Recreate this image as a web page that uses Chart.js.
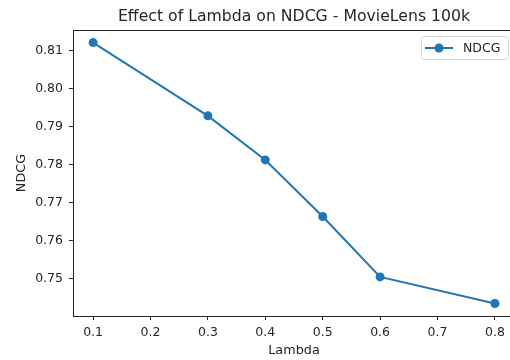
<!DOCTYPE html>
<html>
<head>
<meta charset="utf-8">
<script src="https://cdn.jsdelivr.net/npm/chart.js@4.4.0/dist/chart.umd.min.js"></script>
<style>
html, body { margin: 0; padding: 0; background: #fff; overflow: hidden; }
#wrap { width: 510px; height: 360px; overflow: hidden; }
</style>
</head>
<body>
<div id="wrap"><canvas id="line-chart" width="588" height="360"></canvas></div>
<script>
// data
const lambdas = [0.1, 0.3, 0.4, 0.5, 0.6, 0.8];
const ndcg = [0.8121, 0.7928, 0.7812, 0.7663, 0.7504, 0.7434];
const xTicks = [0.1, 0.2, 0.3, 0.4, 0.5, 0.6, 0.7, 0.8];
const yTicks = [0.75, 0.76, 0.77, 0.78, 0.79, 0.80, 0.81];
const seriesName = 'NDCG';

const blue = '#1f77b4';
const ink = '#262626';
const fontFamily = '"DejaVu Sans", sans-serif';

// matplotlib style frame + legend
const framePlugin = {
    id: 'frame',
    afterDraw(chart) {
        const c = chart.ctx;
        const a = chart.chartArea;
        c.save();
        c.strokeStyle = '#222';
        c.lineWidth = 1;
        c.strokeRect(Math.round(a.left) + 0.5, Math.round(a.top) + 0.5,
            Math.round(a.right - a.left), Math.round(a.bottom - a.top));

        // legend box
        const bx = 421.5, by = 36.5, bw = 87, bh = 23;
        c.beginPath();
        c.roundRect(bx, by, bw, bh, 3);
        c.fillStyle = 'rgba(255,255,255,0.8)';
        c.fill();
        c.strokeStyle = '#d6d6d6';
        c.stroke();
        c.beginPath();
        c.moveTo(425, 48);
        c.lineTo(453, 48);
        c.strokeStyle = blue;
        c.lineWidth = 2;
        c.stroke();
        c.beginPath();
        c.arc(439, 48, 4.5, 0, Math.PI * 2);
        c.fillStyle = blue;
        c.fill();
        c.fillStyle = ink;
        c.font = '12.5px ' + fontFamily;
        c.textBaseline = 'middle';
        c.fillText(seriesName, 463, 48.5);
        c.restore();
    }
};

const ctx = document.getElementById('line-chart');

const chart = new Chart(ctx, {
    type: 'line',
    data: {
        datasets: [{
            label: seriesName,
            data: lambdas.map((x, i) => ({ x: x, y: ndcg[i] })),
            borderColor: blue,
            backgroundColor: blue,
            borderWidth: 2,
            pointRadius: 4.5,
            pointHoverRadius: 4.5,
            pointBorderWidth: 0,
            tension: 0
        }]
    },
    plugins: [framePlugin],
    options: {
        responsive: false,
        animation: false,
        devicePixelRatio: 1,
        layout: { padding: 0 },
        plugins: {
            legend: { display: false },
            tooltip: { enabled: false },
            title: {
                display: true,
                text: 'Effect of Lambda on NDCG - MovieLens 100k',
                color: ink,
                font: { family: fontFamily, size: 15.7, weight: 'normal', lineHeight: 1.2 },
                padding: { top: 7.5, bottom: 3.7 }
            }
        },
        scales: {
            x: {
                type: 'linear',
                min: 0.065,
                max: 0.835,
                afterBuildTicks: s => { s.ticks = xTicks.map(v => ({ value: v })); },
                afterFit: s => { s.height = 44; },
                border: { display: false },
                grid: { drawOnChartArea: false, drawTicks: true, tickLength: 4, color: ink },
                ticks: {
                    color: ink,
                    padding: 5,
                    maxRotation: 0,
                    font: { family: fontFamily, size: 12.5 },
                    callback: v => v.toFixed(1)
                },
                title: {
                    display: true,
                    text: 'Lambda',
                    color: ink,
                    font: { family: fontFamily, size: 12.8 },
                    padding: { top: 0, bottom: 2 }
                }
            },
            y: {
                min: 0.7401,
                max: 0.8154,
                afterBuildTicks: s => { s.ticks = yTicks.map(v => ({ value: v })); },
                afterFit: s => { s.width = 73; },
                border: { display: false },
                grid: { drawOnChartArea: false, drawTicks: true, tickLength: 4, color: ink },
                ticks: {
                    color: ink,
                    padding: 6,
                    font: { family: fontFamily, size: 12.5 },
                    callback: v => v.toFixed(2)
                },
                title: {
                    display: true,
                    text: 'NDCG',
                    color: ink,
                    font: { family: fontFamily, size: 12.8 },
                    padding: { top: 14, bottom: 0 }
                }
            },
            // empty right-hand axis so the plot area (and the centred title) match the reference
            yRight: {
                position: 'right',
                min: 0,
                max: 1,
                afterFit: s => { s.width = 73; },
                border: { display: false },
                grid: { display: false },
                ticks: { display: false }
            }
        }
    }
});
</script>
</body>
</html>
